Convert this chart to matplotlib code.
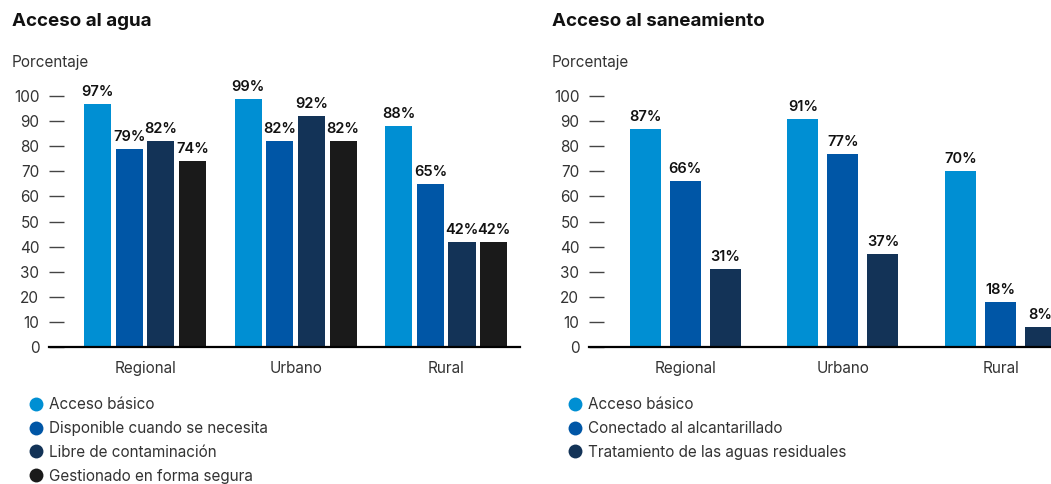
import matplotlib
matplotlib.use("Agg")
import matplotlib.pyplot as plt
from matplotlib.lines import Line2D
import numpy as np

plt.rcParams['font.family'] = ['Inter', 'DejaVu Sans']

categories = ["Regional", "Urbano", "Rural"]

agua_series = ["Acceso básico", "Disponible cuando se necesita",
               "Libre de contaminación", "Gestionado en forma segura"]
agua_values = [
    [97, 99, 88],
    [79, 82, 65],
    [82, 92, 42],
    [74, 82, 42],
]

san_series = ["Acceso básico", "Conectado al alcantarillado",
              "Tratamiento de las aguas residuales"]
san_values = [
    [87, 91, 70],
    [66, 77, 18],
    [31, 37, 8],
]

colors = ["#008fd3", "#0056a6", "#133357", "#1a1a1a"]
yticks = [0, 10, 20, 30, 40, 50, 60, 70, 80, 90, 100]

W, H = 1051, 484
fig = plt.figure(figsize=(W / 100, H / 100), dpi=100)

TXT = "#333333"


def px_axes(x0, x1, ybot, ytop):
    return fig.add_axes([x0 / W, (H - ybot) / H, (x1 - x0) / W, (ybot - ytop) / H])


def draw_panel(ax, values, step, width, xlim):
    n = len(values)
    x = np.arange(len(categories))
    for i, vals in enumerate(values):
        off = (i - (n - 1) / 2) * step
        bars = ax.bar(x + off, vals, width, color=colors[i], zorder=2)
        for b, v in zip(bars, vals):
            ax.text(b.get_x() + b.get_width() / 2, v + 2.0, f"{v}%",
                    ha="center", va="bottom", fontsize=10.5,
                    fontweight="semibold", color="#111111")
    ax.set_xlim(*xlim)
    ax.set_ylim(0, 106.4)
    ax.set_yticks(yticks)
    ax.set_xticks(x)
    ax.set_xticklabels(categories)
    for s in ["top", "right", "left"]:
        ax.spines[s].set_visible(False)
    ax.spines["bottom"].set_linewidth(1.6)
    ax.spines["bottom"].set_color("#000000")
    ax.tick_params(axis="y", direction="in", length=11, width=1,
                   color="#444444", pad=7, labelsize=11, labelcolor=TXT)
    ax.tick_params(axis="x", length=0, pad=10, labelsize=11, labelcolor=TXT)


ax1 = px_axes(49, 520, 347, 80)
draw_panel(ax1, agua_values, 0.21, 0.18, (-0.638, 2.49))

ax2 = px_axes(589, 1051, 347, 80)
draw_panel(ax2, san_values, 0.254, 0.197, (-0.61, 2.32))

fig.text(12 / W, 1 - 22 / H, "Acceso al agua", fontsize=13.5,
         fontweight="bold", va="center", ha="left", color="#111111")
fig.text(552 / W, 1 - 22 / H, "Acceso al saneamiento", fontsize=13.5,
         fontweight="bold", va="center", ha="left", color="#111111")
fig.text(12 / W, 1 - 62 / H, "Porcentaje", fontsize=11,
         va="center", ha="left", color=TXT)
fig.text(552 / W, 1 - 62 / H, "Porcentaje", fontsize=11,
         va="center", ha="left", color=TXT)


def legend(series, x, y):
    handles = [Line2D([], [], marker="o", linestyle="none", markersize=10,
                      markerfacecolor=colors[i], markeredgecolor="none")
               for i in range(len(series))]
    fig.legend(handles, series, loc="upper left",
               bbox_to_anchor=(x / W, 1 - y / H), frameon=False,
               fontsize=11, labelcolor=TXT, handlelength=0.7,
               handletextpad=0.45, labelspacing=0.58, borderpad=0,
               borderaxespad=0)


legend(agua_series, 31, 397)
legend(san_series, 570, 397)

fig.savefig("out.png", dpi=100)
